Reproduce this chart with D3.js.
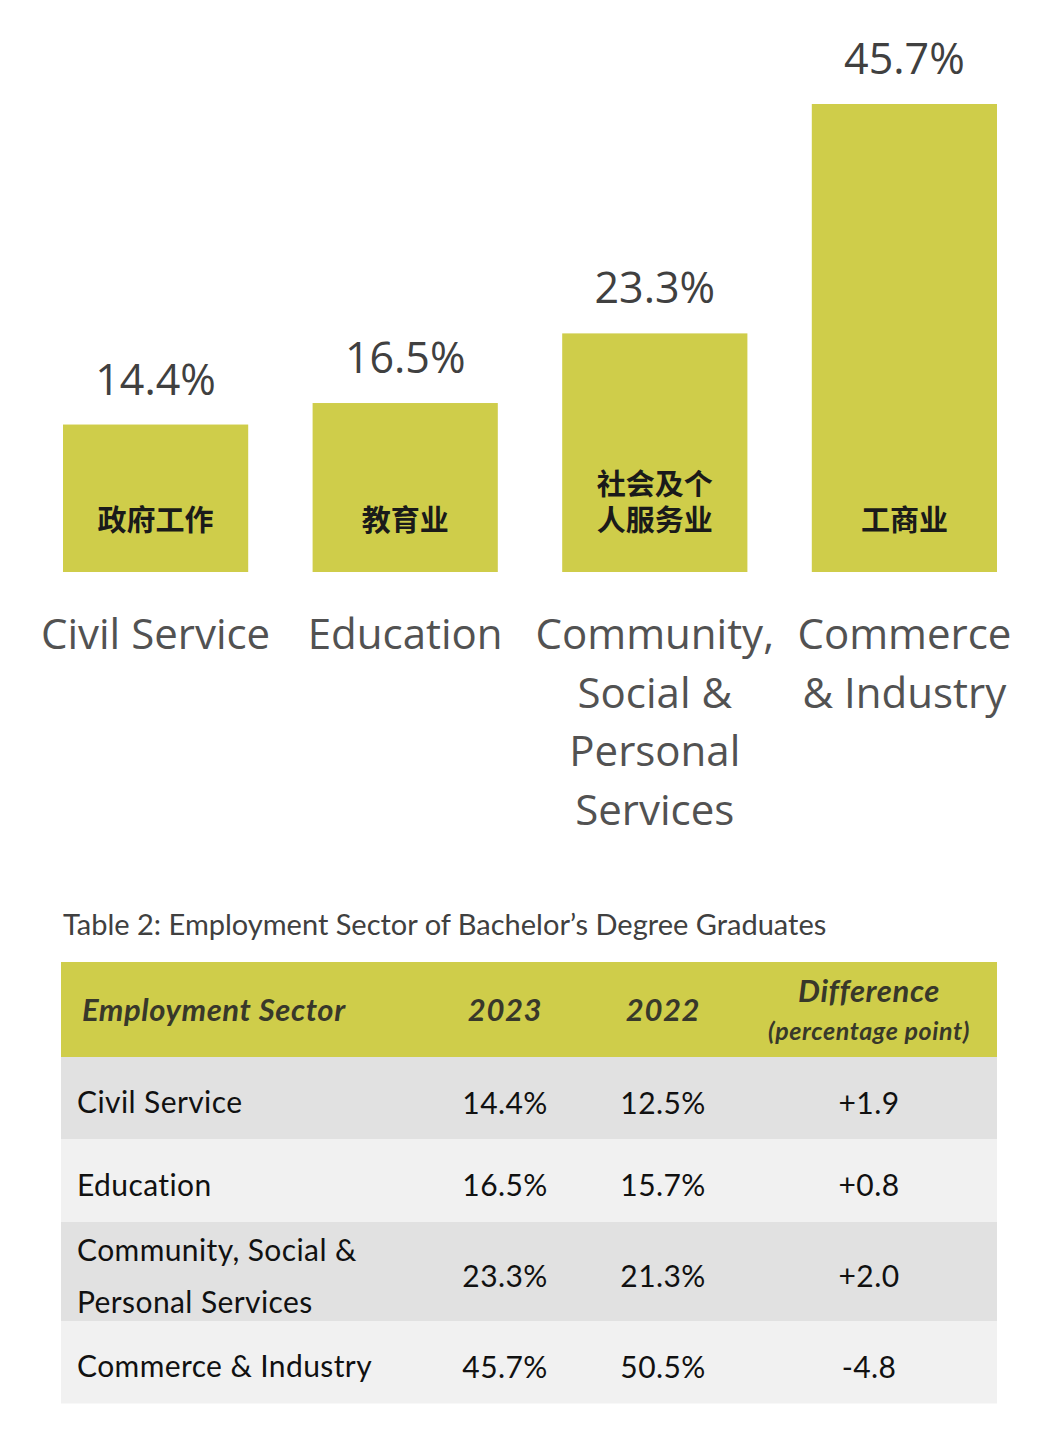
<!DOCTYPE html>
<html>
<head>
<meta charset="utf-8">
<script src="https://cdn.jsdelivr.net/npm/d3@7/dist/d3.min.js"></script>
<style>
  body { margin: 0; background: #fff; }
  svg { display: block; }
</style>
</head>
<body>
<script>
"use strict";

// chart data
const sectors = ["Civil Service", "Education", "Community, Social & Personal Services", "Commerce & Industry"];
const share2023 = [14.4, 16.5, 23.3, 45.7];
const chineseLabels = [["政府工作"], ["教育业"], ["社会及个", "人服务业"], ["工商业"]];
const englishLabels = [["Civil Service"], ["Education"], ["Community,", "Social &", "Personal", "Services"], ["Commerce", "& Industry"]];

// table data
const tableTitle = "Table 2: Employment Sector of Bachelor’s Degree Graduates";
const tableSectors = [["Civil Service"], ["Education"], ["Community, Social &", "Personal Services"], ["Commerce & Industry"]];
const share2022 = [12.5, 15.7, 21.3, 50.5];
const differences = ["+1.9", "+0.8", "+2.0", "-4.8"];

const w = 1050;
const h = 1444;
const green = "#cfcd4a";
const sansFont = "'Open Sans', 'Noto Sans', sans-serif";
const tableFont = "Lato, 'Open Sans', sans-serif";
const cjkFont = "'Noto Sans CJK SC', 'Noto Sans CJK TC', sans-serif";

const svg = d3.select("body").append("svg").attr("width", w).attr("height", h);

const data = sectors.map((s, i) => ({
  sector: s,
  value: share2023[i],
  cn: chineseLabels[i],
  en: englishLabels[i]
}));

// scales
const xScale = d3.scaleBand().domain(sectors).range([63, 997]).paddingInner(0.258).paddingOuter(0);
const yScale = d3.scaleLinear().domain([0, 45.7]).range([572, 104]);

const bars = svg.append("g").attr("class", "bars");

bars.selectAll("rect")
  .data(data)
  .enter()
  .append("rect")
  .attr("x", (d) => xScale(d.sector))
  .attr("y", (d) => yScale(d.value))
  .attr("width", xScale.bandwidth())
  .attr("height", (d) => yScale(0) - yScale(d.value))
  .attr("fill", green);

// value labels above bars
bars.selectAll("text.value")
  .data(data)
  .enter()
  .append("text")
  .attr("class", "value")
  .attr("x", (d) => xScale(d.sector) + xScale.bandwidth() / 2)
  .attr("y", (d) => yScale(d.value) - 30)
  .attr("text-anchor", "middle")
  .attr("font-family", sansFont)
  .attr("font-size", 43)
  .attr("fill", "#404040")
  .text((d) => d.value.toFixed(1) + "%");

// chinese labels inside bars, bottom line sits at fixed baseline
const cnGroups = bars.selectAll("text.cn")
  .data(data)
  .enter()
  .append("text")
  .attr("class", "cn")
  .attr("text-anchor", "middle")
  .attr("font-family", cjkFont)
  .attr("font-weight", 700)
  .attr("font-size", 29)
  .attr("fill", "#1a1a1a");

cnGroups.selectAll("tspan")
  .data((d) => d.cn.map((line, j) => ({ line, j, n: d.cn.length, d })))
  .enter()
  .append("tspan")
  .attr("x", (t) => xScale(t.d.sector) + xScale.bandwidth() / 2)
  .attr("y", (t) => 531 - (t.n - 1 - t.j) * 36)
  .text((t) => t.line);

// english category labels below bars
const enGroups = svg.append("g").selectAll("text")
  .data(data)
  .enter()
  .append("text")
  .attr("text-anchor", "middle")
  .attr("font-family", sansFont)
  .attr("font-size", 42)
  .attr("fill", "#525252");

enGroups.selectAll("tspan")
  .data((d) => d.en.map((line, j) => ({ line, j, d })))
  .enter()
  .append("tspan")
  .attr("x", (t) => xScale(t.d.sector) + xScale.bandwidth() / 2)
  .attr("y", (t) => 649 + t.j * 58.5)
  .text((t) => t.line);

// ---- table ----
const table = svg.append("g").attr("class", "table");
const tx0 = 61;
const tx1 = 997;

table.append("text")
  .attr("x", 63)
  .attr("y", 935)
  .attr("font-family", tableFont)
  .attr("font-size", 29)
  .attr("fill", "#404040")
  .text(tableTitle);

const colX = { sector: 77, y2023: 505, y2022: 663, diff: 869 };

// header
table.append("rect").attr("x", tx0).attr("y", 962).attr("width", tx1 - tx0).attr("height", 95).attr("fill", green);

const headerText = (x, y, txt, size, anchor) =>
  table.append("text")
    .attr("x", x)
    .attr("y", y)
    .attr("text-anchor", anchor)
    .attr("font-family", tableFont)
    .attr("font-weight", 700)
    .attr("font-style", "italic")
    .attr("font-size", size)
    .attr("letter-spacing", 0.6)
    .attr("fill", "#38382a")
    .text(txt);

headerText(82, 1021, "Employment Sector", 31, "start");
headerText(colX.y2023, 1021, "2023", 31, "middle");
headerText(colX.y2022, 1021, "2022", 31, "middle");
headerText(colX.diff, 1002, "Difference", 31, "middle");
headerText(colX.diff, 1040, "(percentage point)", 25, "middle");

// rows
const rows = tableSectors.map((lines, i) => ({
  lines,
  v23: share2023[i].toFixed(1) + "%",
  v22: share2022[i].toFixed(1) + "%",
  diff: differences[i]
}));

let yTop = 1057;
rows.forEach((r, i) => {
  const rh = r.lines.length > 1 ? 99 : 82.5;
  const cy = yTop + rh / 2;
  table.append("rect")
    .attr("x", tx0)
    .attr("y", yTop)
    .attr("width", tx1 - tx0)
    .attr("height", rh)
    .attr("fill", i % 2 === 0 ? "#e1e1e1" : "#f1f1f1");

  const cell = (x, y, txt, anchor) =>
    table.append("text")
      .attr("x", x)
      .attr("y", y)
      .attr("text-anchor", anchor)
      .attr("font-family", tableFont)
      .attr("font-size", 30)
      .attr("letter-spacing", 0.4)
      .attr("fill", "#111111")
      .text(txt);

  r.lines.forEach((line, j) => {
    const off = (j - (r.lines.length - 1) / 2) * 52;
    cell(colX.sector, cy + off + 15, line, "start");
  });
  cell(colX.y2023, cy + 15.5, r.v23, "middle");
  cell(colX.y2022, cy + 15.5, r.v22, "middle");
  cell(colX.diff, cy + 15.5, r.diff, "middle");
  yTop += rh;
});
</script>
</body>
</html>
